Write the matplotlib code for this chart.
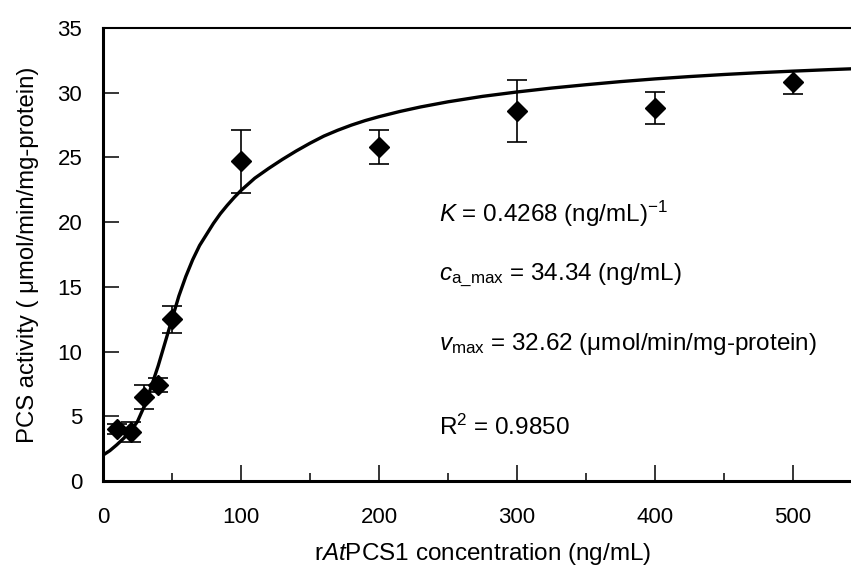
import matplotlib
matplotlib.use("Agg")
import matplotlib.pyplot as plt
from matplotlib.ticker import MultipleLocator

plt.rcParams["font.family"] = ["Liberation Sans", "DejaVu Sans"]
plt.rcParams["mathtext.fontset"] = "custom"
plt.rcParams["mathtext.rm"] = "Liberation Sans"
plt.rcParams["mathtext.it"] = "Liberation Sans:italic"

# measured activity (mean +/- SD)
conc = [10, 20, 30, 40, 50, 100, 200, 300, 400, 500]
activity = [4.0, 3.8, 6.5, 7.4, 12.5, 24.7, 25.8, 28.6, 28.8, 30.8]
sd = [0.4, 0.75, 0.9, 0.55, 1.05, 2.45, 1.33, 2.4, 1.25, 0.88]

# fitted model curve
fit_x = [0, 5, 10, 15, 20, 25, 30, 35, 40, 45, 50, 55, 60, 65, 70, 75, 80,
         85, 90, 95, 100, 110, 120, 130, 140, 150, 160, 170, 180, 190, 200,
         215, 230, 250, 275, 300, 325, 350, 375, 400, 425, 450, 475, 500,
         525, 550]
fit_y = [2.0, 2.35, 2.8, 3.3, 3.85, 4.6, 5.8, 7.3, 8.9, 10.7, 12.5, 14.3,
         15.8, 17.1, 18.2, 19.05, 19.9, 20.65, 21.3, 21.9, 22.45, 23.4,
         24.15, 24.85, 25.5, 26.1, 26.65, 27.1, 27.5, 27.85, 28.15, 28.55,
         28.9, 29.3, 29.72, 30.06, 30.36, 30.62, 30.86, 31.07, 31.25, 31.41,
         31.55, 31.67, 31.78, 31.88]

fig = plt.figure(figsize=(8.51, 5.72), dpi=100)
ax = fig.add_axes([0.121, 0.159, 0.892, 0.792])

ax.plot(fit_x, fit_y, color="black", lw=2.4, zorder=2)
ax.errorbar(conc, activity, yerr=sd, fmt="D", color="black", ms=10.5,
            elinewidth=1.2, capsize=7, capthick=1.2, zorder=3)

ax.set_xlim(0, 550)
ax.set_ylim(0, 35)
ax.xaxis.set_major_locator(MultipleLocator(100))
ax.xaxis.set_minor_locator(MultipleLocator(50))
ax.yaxis.set_major_locator(MultipleLocator(5))
ax.tick_params(axis="both", which="both", direction="in", width=1.1,
               labelsize=16)
ax.tick_params(axis="x", which="major", length=11.5, pad=19)
ax.tick_params(axis="x", which="minor", length=6)
ax.tick_params(axis="y", which="major", length=11.5, pad=15)
ax.tick_params(right=False, top=False)

for side in ("left", "bottom"):
    ax.spines[side].set_linewidth(2.2)
ax.spines["top"].set_linewidth(1.5)
ax.spines["right"].set_visible(False)

ax.set_xlabel(r"r$\mathit{At}$PCS1 concentration (ng/mL)", fontsize=17.5,
              labelpad=9)
ax.set_ylabel("PCS activity ( μmol/min/mg-protein)", fontsize=17.2,
              labelpad=13)

fs = 17.5
tx = 243.5
ax.text(tx, 20.05, r"$K$ = 0.4268 (ng/mL)$^{-1}$", fontsize=fs)
ax.text(tx, 15.55, r"$c_{\mathrm{a\_max}}$ = 34.34 (ng/mL)", fontsize=fs)
ax.text(tx, 10.13, r"$v_{\mathrm{max}}$ = 32.62 (μmol/min/mg-protein)",
        fontsize=fs)
ax.text(tx, 3.56, r"R$^{2}$ = 0.9850", fontsize=fs)

fig.savefig("out.png", dpi=100)
